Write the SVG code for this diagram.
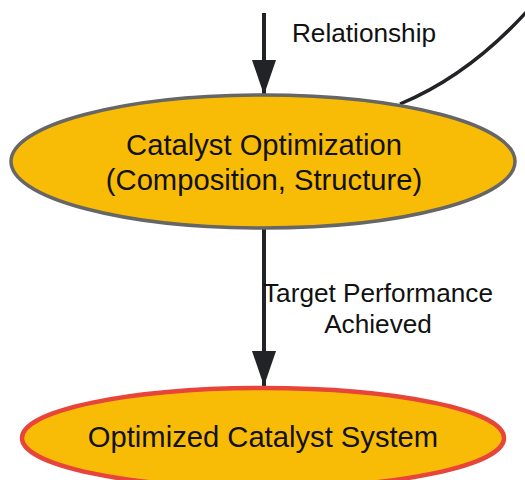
<svg xmlns="http://www.w3.org/2000/svg" width="525" height="480" viewBox="0 0 525 480">
  <style>
    .node-text { font-family: "Liberation Sans", Arial, sans-serif; font-size: 29.2px; fill: #111; text-anchor: middle; }
    .edge-text { font-family: "Liberation Sans", Arial, sans-serif; font-size: 26.2px; fill: #111; text-anchor: middle; }
    .edge { fill: none; stroke: #222326; stroke-width: 4; }
    .node-fill { fill: #F9BC06; }
  </style>
  <defs>
    <marker id="arrow" markerUnits="userSpaceOnUse" markerWidth="35" markerHeight="24" refX="35" refY="12" viewBox="0 0 35 24" orient="auto">
      <path d="M0,0 L35,12 L0,24 Z" fill="#222326"/>
    </marker>
  </defs>
  <rect width="525" height="480" fill="#ffffff"/>
  <g id="connectors">
    <path class="edge" d="M264,13 L264,95" marker-end="url(#arrow)"/>
    <path class="edge" d="M264,229 L264,386" marker-end="url(#arrow)"/>
    <path class="edge" style="stroke-width:3.5" d="M530,8 Q470,75 400,104"/>
    <text class="edge-text" x="364" y="42">Relationship</text>
    <text class="edge-text" x="378" y="302">Target Performance</text>
    <text class="edge-text" x="378" y="333">Achieved</text>
  </g>
  <g id="node-catalyst-optimization">
    <ellipse class="node-fill" cx="263" cy="161.5" rx="252" ry="66.5" stroke="#666666" stroke-width="3.5"/>
    <text class="node-text" x="264" y="155">Catalyst Optimization</text>
    <text class="node-text" x="264" y="190">(Composition, Structure)</text>
  </g>
  <g id="node-optimized-catalyst-system">
    <ellipse class="node-fill" cx="263" cy="438" rx="241" ry="50" stroke="#E8453A" stroke-width="4.5"/>
    <text class="node-text" x="263" y="447">Optimized Catalyst System</text>
  </g>
</svg>
